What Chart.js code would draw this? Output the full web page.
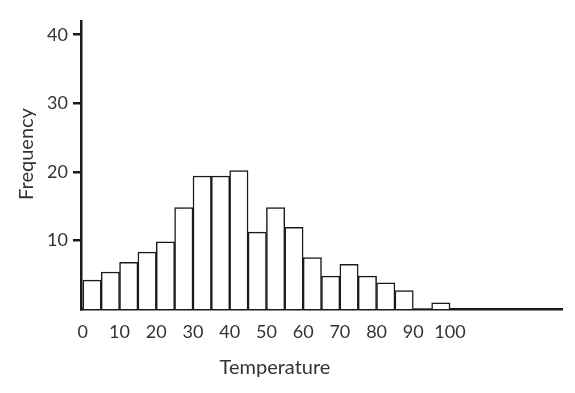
<!DOCTYPE html>
<html>
<head>
<meta charset="utf-8">
<script src="https://cdn.jsdelivr.net/npm/chart.js@4/dist/chart.umd.min.js"></script>
<style>
  html, body { margin: 0; padding: 0; background: #ffffff; }
  #wrap { width: 575px; height: 393px; position: relative; }
</style>
</head>
<body>
<div id="wrap"><canvas id="c" width="575" height="393"></canvas></div>
<script>
// ---- data ----
const binStarts = [0, 5, 10, 15, 20, 25, 30, 35, 40, 45, 50, 55, 60, 65, 70, 75, 80, 85, 90, 95];
const binWidth = 5;
const frequencies = [4.2, 5.4, 6.8, 8.3, 9.8, 14.8, 19.4, 19.4, 20.2, 11.2, 14.8, 11.9, 7.5, 4.8, 6.5, 4.8, 3.8, 2.7, 0, 0.9];
const xTickValues = [0, 10, 20, 30, 40, 50, 60, 70, 80, 90, 100];
const yTickValues = [10, 20, 30, 40];
const xTitle = 'Temperature';
const yTitle = 'Frequency';

const points = binStarts.map((s, i) => ({ x: s + binWidth / 2, y: frequencies[i] }));

const FONT = 'Lato, "Open Sans", sans-serif';
const TEXT = '#333333';
const INK = '#1a1a1a';

const axisTitles = {
  id: 'axisTitles',
  afterDraw(chart, args, opts) {
    const ctx = chart.ctx;
    ctx.save();
    ctx.fillStyle = opts.color;
    ctx.font = opts.size + 'px ' + opts.family;
    ctx.textAlign = 'center';
    ctx.textBaseline = 'middle';
    ctx.fillText(opts.xText, opts.xPos[0], opts.xPos[1]);
    ctx.translate(opts.yPos[0], opts.yPos[1]);
    ctx.rotate(-Math.PI / 2);
    ctx.fillText(opts.yText, 0, 0);
    ctx.restore();
  }
};

new Chart(document.getElementById('c'), {
  type: 'bar',
  data: {
    datasets: [{
      data: points,
      backgroundColor: '#ffffff',
      borderColor: INK,
      borderWidth: c => (c.raw && c.raw.y > 0 ? 1.5 : 0),
      borderSkipped: 'start',
      barPercentage: 1,
      categoryPercentage: 1,
      grouped: false
    }]
  },
  plugins: [axisTitles],
  options: {
    responsive: false,
    animation: false,
    events: [],
    layout: { padding: { left: 0, top: 21, right: 13, bottom: 0 } },
    plugins: {
      legend: { display: false },
      tooltip: { enabled: false },
      axisTitles: {
        xText: xTitle, yText: yTitle,
        xPos: [275, 368], yPos: [27, 154],
        size: 20, family: FONT, color: TEXT
      }
    },
    scales: {
      x: {
        type: 'linear',
        z: 1,
        offset: false,
        min: -0.5,
        max: 130.5,
        afterBuildTicks: s => { s.ticks = xTickValues.map(v => ({ value: v })); },
        afterFit: s => { s.height = 84; },
        grid: { display: false, drawTicks: false, offset: false },
        border: { display: true, color: INK, width: 2.5 },
        ticks: {
          autoSkip: false,
          maxRotation: 0,
          padding: 12,
          color: TEXT,
          font: { family: FONT, size: 18 }
        }
      },
      y: {
        type: 'linear',
        z: 1,
        min: 0,
        max: 42,
        afterBuildTicks: s => { s.ticks = yTickValues.map(v => ({ value: v })); },
        afterFit: s => { s.width = 81; },
        grid: { display: true, drawOnChartArea: false, drawTicks: true, tickLength: 8, color: INK, lineWidth: 2.5 },
        border: { display: true, color: INK, width: 2.5 },
        ticks: {
          padding: 5,
          color: TEXT,
          font: { family: FONT, size: 18 }
        }
      }
    }
  }
});
</script>
</body>
</html>
